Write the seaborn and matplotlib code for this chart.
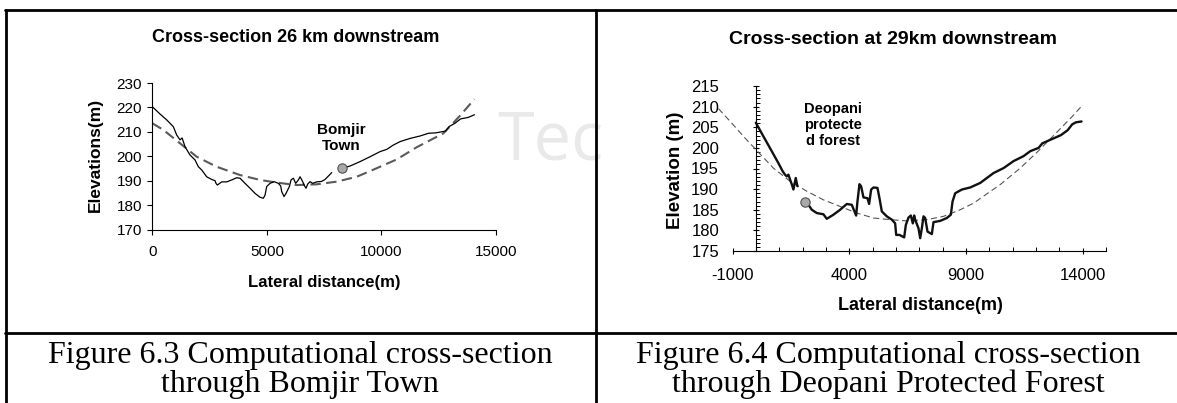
import numpy as np
import pandas as pd
import matplotlib
matplotlib.use("Agg")
import matplotlib.pyplot as plt
from matplotlib.ticker import MultipleLocator
from matplotlib.lines import Line2D
import seaborn as sns

# ---------------- data ----------------
# Figure 6.3 (26 km downstream) - surveyed terrain (two pieces) and fitted section
bomjir_x1 = [0, 336, 628, 918, 1064, 1210, 1300, 1355, 1428, 1646, 1864, 2010, 2155, 2374,
             2592, 2737, 2781, 2839, 3028, 3247, 3465, 3683, 3829, 4047, 4265, 4483, 4702,
             4847, 4920, 4993, 5138, 5313, 5502, 5604, 5648, 5749, 5837, 5982, 6055, 6157,
             6259, 6375, 6448, 6564, 6622, 6709, 6782, 6884, 7000, 7175, 7393, 7539, 7728, 7830]
bomjir_y1 = [220.3, 217.3, 214.9, 212.1, 208.7, 206.7, 207.5, 206.0, 203.9, 200.5, 198.5,
             195.7, 194.4, 191.6, 190.5, 190.0, 188.9, 188.2, 189.5, 189.5, 190.3, 191.2,
             191.0, 188.9, 186.9, 184.8, 183.2, 182.8, 184.1, 187.6, 188.9, 189.6, 188.9,
             187.8, 185.5, 183.5, 184.8, 187.6, 190.3, 191.0, 188.9, 190.3, 191.6, 189.6,
             188.2, 186.9, 188.6, 189.6, 188.9, 189.5, 189.7, 190.5, 192.3, 193.3]
bomjir_x2 = [8310, 8630, 9067, 9503, 9940, 10230, 10521, 10813, 11249, 11686, 12050, 12385,
             12795, 12960, 13208, 13455, 13784, 14060]
bomjir_y2 = [195.1, 196.0, 197.8, 199.8, 201.9, 202.8, 204.6, 206.0, 207.3, 208.3, 209.4,
             209.6, 210.3, 212.2, 213.5, 215.3, 215.9, 217.0]
bomjir_fit_x = [0, 482, 1210, 1937, 2810, 3829, 4702, 5429, 6300, 7175, 8048, 8921, 9794,
                10667, 11540, 12707, 13400, 14060]
bomjir_fit_y = [213.5, 210.8, 205.3, 199.8, 195.7, 192.3, 190.3, 189.2, 188.2, 188.5, 189.6,
                191.6, 195.1, 198.7, 203.7, 209.4, 216.3, 223.4]
bomjir_town = (8300, 195.0)

# Figure 6.4 (29 km downstream)
deo_x1 = [0, 323, 681, 966, 1152, 1252, 1324, 1395, 1467, 1538, 1610, 1652, 1710, 1781]
deo_y1 = [206.1, 202.8, 199.2, 196.3, 194.3, 193.5, 193.1, 193.5, 192.3, 191.2, 189.9,
          191.1, 192.7, 190.7]
deo_x2 = [2110, 2253, 2396, 2610, 2896, 3038, 3324, 3610, 3896, 4110, 4253, 4296, 4353, 4439,
          4510, 4610, 4782, 4853, 4939, 5039, 5210, 5296, 5396, 5610, 5825, 5968, 6011, 6154,
          6354, 6425, 6539, 6639, 6725, 6782, 6825, 6968, 7040, 7111, 7183, 7254, 7354, 7540,
          7611, 7897, 8183, 8354, 8426, 8540, 8826, 9183, 9612, 9897, 10183, 10612, 11041,
          11470, 11755, 12112, 12272, 12752, 13072, 13360, 13552, 13712, 13952]
deo_y2 = [186.9, 186.2, 185.0, 184.2, 183.9, 182.8, 183.8, 185.0, 186.4, 186.2, 184.2, 183.6,
          187.0, 191.2, 190.7, 188.0, 187.8, 186.4, 189.9, 190.4, 190.3, 187.8, 184.6, 183.4,
          182.6, 181.7, 178.9, 178.9, 178.3, 181.3, 183.1, 183.6, 181.7, 183.6, 182.6, 180.5,
          178.1, 180.5, 183.4, 183.0, 179.7, 179.1, 182.0, 182.3, 183.0, 183.8, 187.0, 189.0,
          189.9, 190.4, 191.5, 192.7, 193.9, 195.1, 196.8, 198.0, 199.2, 200.0, 201.1, 202.3,
          203.1, 204.3, 205.7, 206.2, 206.4]
deo_fit_x = [-1600, -1000, -500, 0, 752, 1467, 2181, 2896, 3610, 4325, 5039, 5754, 6468, 7325,
             8040, 8754, 9326, 10469, 11327, 12112, 12912, 13552, 14000]
deo_fit_y = [209.5, 205.8, 202.6, 199.6, 195.1, 191.9, 189.5, 187.4, 185.8, 184.2, 183.0,
             182.6, 182.3, 182.6, 183.4, 185.0, 186.6, 191.1, 195.1, 199.3, 203.9, 207.6, 210.4]
deopani_point = (2110, 186.9)

titles = ["Cross-section 26 km downstream", "Cross-section at 29km downstream"]
ylabels = ["Elevations(m)", "Elevation (m)"]
xlabel = "Lateral distance(m)"
left_xticks = [0, 5000, 10000, 15000]
left_yticks = [170, 180, 190, 200, 210, 220, 230]
right_xticks = [-1000, 4000, 9000, 14000]
right_yticks = [175, 180, 185, 190, 195, 200, 205, 210, 215]
captions = ["Figure 6.3 Computational cross-section\nthrough Bomjir Town",
            "Figure 6.4 Computational cross-section\nthrough Deopani Protected Forest"]

# ---------------- style ----------------
sns.set_style("ticks")
plt.rcParams["font.family"] = ["Liberation Sans", "DejaVu Sans"]
plt.rcParams["axes.linewidth"] = 0.8
plt.rcParams["axes.unicode_minus"] = False
for key in ["text.color", "axes.labelcolor", "xtick.color", "ytick.color", "axes.edgecolor"]:
    plt.rcParams[key] = "black"

W, H = 1177, 403
fig = plt.figure(figsize=(W / 100, H / 100), dpi=100)


def fx(px):
    return px / W


def fy(py):
    return 1 - py / H


# faint watermark behind everything
fig.text(fx(550), fy(142), "Tec", fontsize=48, color="#e9e9e9", ha="center", va="center",
         family=["Open Sans", "DejaVu Sans"], zorder=0)

# page frame (table borders)
frame_kw = dict(color="black", lw=2.0, transform=fig.transFigure)
fig.add_artist(Line2D([fx(5), 1.0], [fy(10), fy(10)], **frame_kw))
fig.add_artist(Line2D([fx(6), fx(6)], [fy(10), 0], **frame_kw))
fig.add_artist(Line2D([fx(595.5), fx(595.5)], [fy(10), 0], **frame_kw))
fig.add_artist(Line2D([fx(5), 1.0], [fy(333), fy(333)], **frame_kw))

# ---------------- left panel ----------------
axL = fig.add_axes([fx(152.3), fy(229.5), fx(496 - 152.3), (229.5 - 83) / H])
axL.patch.set_alpha(0)
terrL = pd.DataFrame({
    "x": bomjir_x1 + bomjir_x2,
    "y": bomjir_y1 + bomjir_y2,
    "seg": [0] * len(bomjir_x1) + [1] * len(bomjir_x2),
})
fitL = pd.DataFrame({"x": bomjir_fit_x, "y": bomjir_fit_y})
sns.lineplot(data=fitL, x="x", y="y", ax=axL, color="#5a5a5a", lw=1.5,
             sort=False, estimator=None)
axL.lines[-1].set_dashes((5, 2.6))
sns.lineplot(data=terrL, x="x", y="y", units="seg", estimator=None, sort=False,
             ax=axL, color="black", lw=0.9)
sns.scatterplot(x=[bomjir_town[0]], y=[bomjir_town[1]], ax=axL, s=45,
                color="#a8a8a8", edgecolor="#505050", linewidth=0.8, zorder=5)
axL.text(8235, 207.5, "Bomjir\nTown", ha="center", va="center", fontsize=11,
         fontweight="bold", linespacing=1.25)

axL.set_xlim(0, 15000)
axL.set_ylim(170, 230)
axL.set_xticks(left_xticks)
axL.set_yticks(left_yticks)
axL.tick_params(axis="both", direction="out", length=3.5, width=0.8, labelsize=11,
                colors="black", bottom=True, left=True)
axL.tick_params(axis="x", pad=8)
axL.tick_params(axis="y", pad=4)
for s in ["top", "right"]:
    axL.spines[s].set_visible(False)
axL.set_xlabel(xlabel, fontsize=12, fontweight="bold")
axL.set_ylabel(ylabels[0], fontsize=12.5, fontweight="bold")
axL.xaxis.set_label_coords(0.5, -(283 - 229.5) / 146.5)
axL.xaxis.label.set_va("center")
axL.yaxis.set_label_coords((95 - 152.3) / 343.7, 0.509)
axL.yaxis.label.set_va("center")
fig.text(fx(296), fy(37), titles[0], ha="center", va="center", fontsize=13,
         fontweight="bold")

# ---------------- right panel ----------------
axR = fig.add_axes([fx(732.5), fy(251), fx(1106 - 732.5), (251 - 86) / H])
axR.patch.set_alpha(0)
terrR = pd.DataFrame({
    "x": deo_x1 + deo_x2,
    "y": deo_y1 + deo_y2,
    "seg": [0] * len(deo_x1) + [1] * len(deo_x2),
})
fitR = pd.DataFrame({"x": deo_fit_x, "y": deo_fit_y})
sns.lineplot(data=fitR, x="x", y="y", ax=axR, color="#555555", lw=0.8,
             sort=False, estimator=None)
axR.lines[-1].set_dashes((5.5, 3.2))
axR.lines[-1].set_clip_on(False)
sns.lineplot(data=terrR, x="x", y="y", units="seg", estimator=None, sort=False,
             ax=axR, color="#111111", lw=1.7)
sns.scatterplot(x=[deopani_point[0]], y=[deopani_point[1]], ax=axR, s=45,
                color="#a8a8a8", edgecolor="#505050", linewidth=0.8, zorder=5)
axR.text(3322, 205.6, "Deopani\nprotecte\nd forest", ha="center", va="center",
         fontsize=10.5, fontweight="bold", linespacing=1.2)

axR.set_xlim(-1000, 15000)
axR.set_ylim(175, 215)
axR.set_xticks(right_xticks)
axR.set_yticks(right_yticks)
axR.xaxis.set_minor_locator(MultipleLocator(1000))
axR.yaxis.set_minor_locator(MultipleLocator(1))
axR.spines["left"].set_position(("data", 0))
for s in ["top", "right"]:
    axR.spines[s].set_visible(False)
axR.tick_params(axis="both", which="both", bottom=True, left=True)
axR.tick_params(axis="both", which="major", direction="inout", length=5, width=0.8,
                labelsize=12, colors="black")
axR.tick_params(axis="both", which="minor", direction="in", length=3, width=0.7,
                colors="black")
axR.tick_params(axis="x", which="major", pad=10)
axR.tick_params(axis="y", which="major", pad=24)
axR.set_xlabel(xlabel, fontsize=13, fontweight="bold")
axR.set_ylabel(ylabels[1], fontsize=13.5, fontweight="bold")
axR.xaxis.set_label_coords(0.502, -(306 - 251) / 165)
axR.xaxis.label.set_va("center")
axR.yaxis.set_label_coords((675 - 732.5) / 373.5, 0.491)
axR.yaxis.label.set_va("center")
fig.text(fx(893), fy(40), titles[1], ha="center", va="center", fontsize=14,
         fontweight="bold")

# ---------------- captions ----------------
for cx, cap in zip([300, 888], captions):
    fig.text(fx(cx), fy(370), cap, ha="center", va="center", fontsize=23,
             family=["Liberation Serif", "DejaVu Serif"], linespacing=0.98,
             color="black")

fig.savefig("out.png", dpi=100)
